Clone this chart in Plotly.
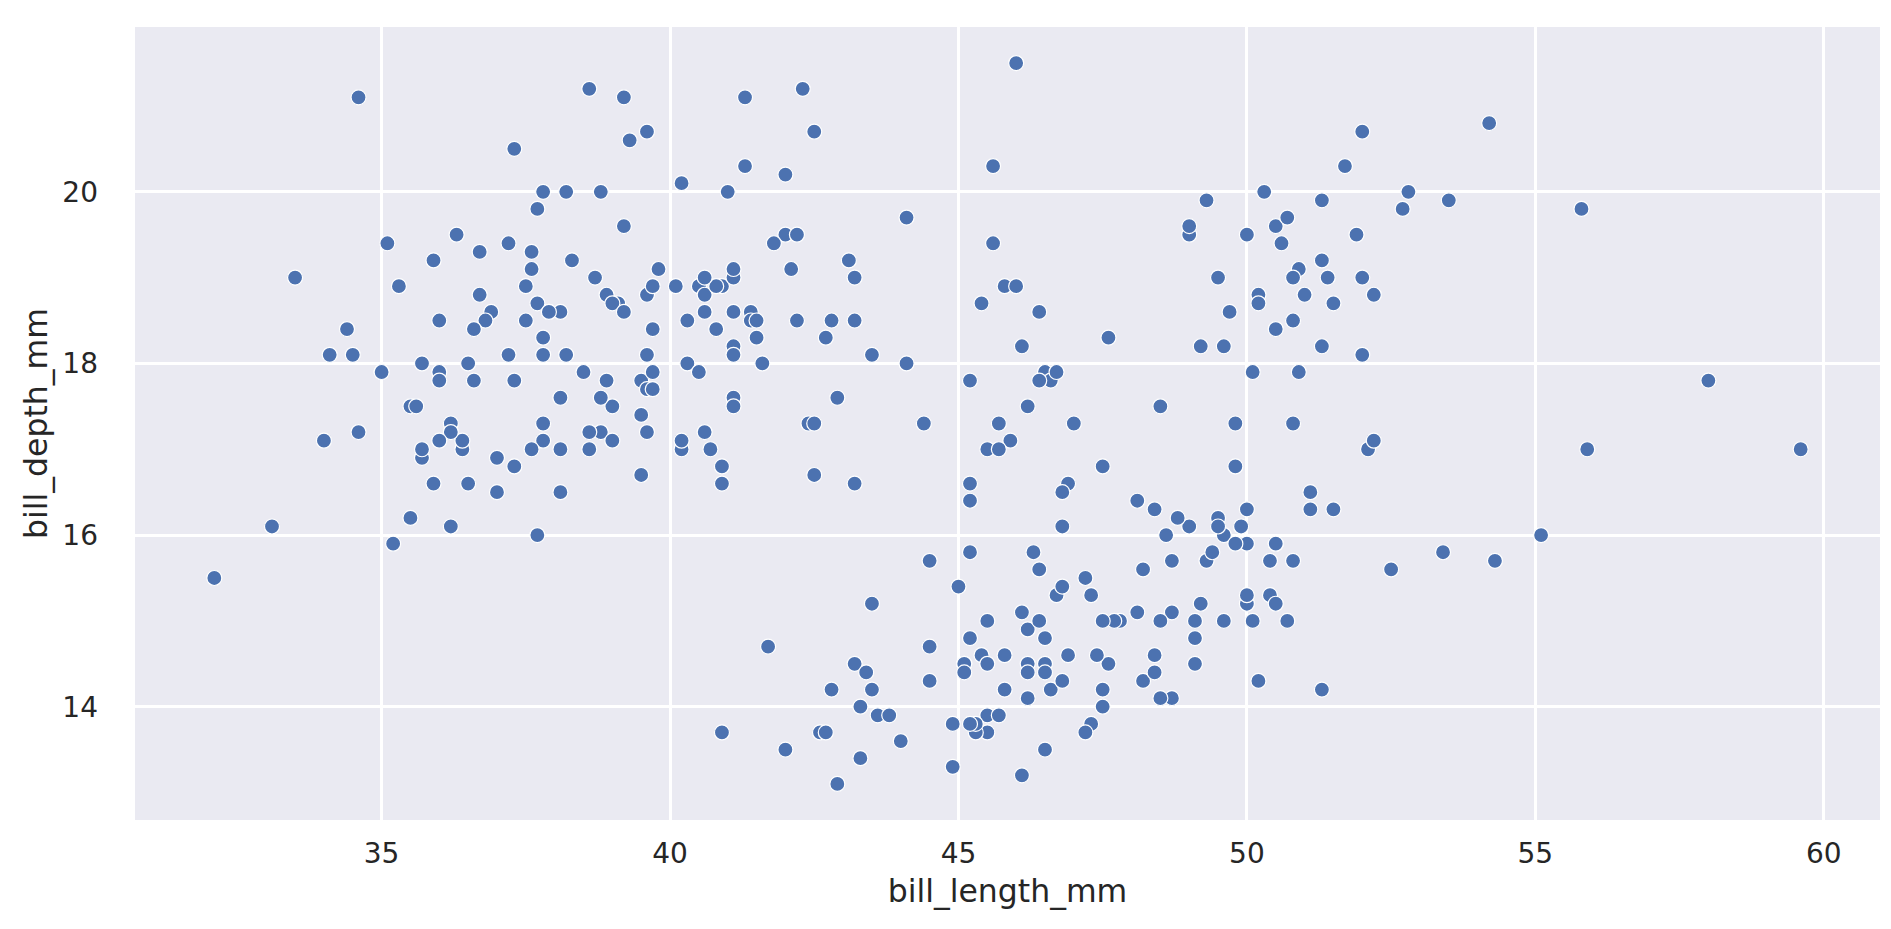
import plotly.graph_objects as go

# Palmer penguins: bill_length_mm / bill_depth_mm (rows with missing values dropped)
adelie_length = [39.1,39.5,40.3,36.7,39.3,38.9,39.2,34.1,42.0,37.8,37.8,41.1,38.6,34.6,36.6,38.7,42.5,34.4,46.0,
    37.8,37.7,35.9,38.2,38.8,35.3,40.6,40.5,37.9,40.5,39.5,37.2,39.5,40.9,36.4,39.2,38.8,42.2,37.6,39.8,36.5,40.8,
    36.0,44.1,37.0,39.6,41.1,37.5,36.0,42.3,39.6,40.1,35.0,42.0,34.5,41.4,39.0,40.6,36.5,37.6,35.7,41.3,37.6,41.1,
    36.4,41.6,35.5,41.1,35.9,41.8,33.5,39.7,39.6,45.8,35.5,42.8,40.9,37.2,36.2,42.1,34.6,42.9,36.7,35.1,37.3,41.3,
    36.3,36.9,38.3,38.9,35.7,41.1,34.0,39.6,36.2,40.8,38.1,40.3,33.1,43.2,35.0,41.0,37.7,37.8,37.9,39.7,38.6,38.2,
    38.1,43.2,38.1,45.6,39.7,42.2,39.6,42.7,38.6,37.3,35.7,41.1,36.2,37.7,40.2,41.4,35.2,40.6,38.8,41.5,39.0,44.1,
    38.5,43.1,36.8,37.5,38.1,41.1,35.6,40.2,37.0,39.7,40.2,40.6,32.1,40.7,37.3,39.0,39.2,36.6,36.0,37.8,36.0,41.5]
adelie_depth = [18.7,17.4,18.0,19.3,20.6,17.8,19.6,18.1,20.2,17.1,17.3,17.6,21.2,21.1,17.8,19.0,20.7,18.4,21.5,
    18.3,18.7,19.2,18.1,17.2,18.9,18.6,17.9,18.6,18.9,16.7,18.1,17.8,18.9,17.0,21.1,20.0,18.5,19.3,19.1,18.0,18.4,
    18.5,19.7,16.9,18.8,19.0,18.9,17.9,21.2,17.7,18.9,17.9,19.5,18.1,18.6,17.5,18.8,16.6,19.1,16.9,21.1,17.0,18.2,
    17.1,18.0,16.2,19.1,16.6,19.4,19.0,18.4,17.2,18.9,17.5,18.5,16.8,19.4,16.1,19.1,17.2,17.6,18.8,19.4,17.8,20.3,
    19.5,18.6,19.2,18.8,18.0,18.1,17.1,18.1,17.3,18.9,18.6,18.5,16.1,18.5,17.9,20.0,16.0,20.0,18.6,18.9,17.2,20.0,
    17.0,19.0,16.5,20.3,17.7,19.5,20.7,18.3,17.0,20.5,17.0,18.6,17.2,19.8,17.0,18.5,15.9,19.0,17.6,18.3,17.1,18.0,
    17.9,19.2,18.5,18.5,17.6,17.5,17.5,20.1,16.5,17.9,17.1,17.2,15.5,17.0,16.8,18.7,18.6,18.4,17.8,18.1,17.1,18.5]

chinstrap_length = [46.5,50.0,51.3,45.4,52.7,45.2,46.1,51.3,46.0,51.3,46.6,51.7,47.0,52.0,45.9,50.5,50.3,58.0,46.4,
    49.2,42.4,48.5,43.2,50.6,46.7,52.0,50.5,49.5,46.4,52.8,40.9,54.2,42.5,51.0,49.7,47.5,47.6,52.0,46.9,53.5,49.0,
    46.2,50.9,45.5,50.9,50.8,50.1,49.0,51.5,49.8,48.1,51.4,45.7,50.7,42.5,52.2,45.2,49.3,50.2,45.6,51.9,46.8,45.7,
    55.8,43.5,49.6,50.8,50.2]
chinstrap_depth = [17.9,19.5,19.2,18.7,19.8,17.8,18.2,18.2,18.9,19.9,17.8,20.3,17.3,18.1,17.1,19.6,20.0,17.8,18.6,
    18.2,17.3,17.5,16.6,19.4,17.9,19.0,18.4,19.0,17.8,20.0,16.6,20.8,16.7,18.8,18.6,16.8,18.3,20.7,16.6,19.9,19.5,
    17.5,19.1,17.0,17.9,18.5,17.9,19.6,18.7,17.3,16.4,19.0,17.3,19.7,17.3,18.8,16.6,19.9,18.8,19.4,19.5,16.5,17.0,
    19.8,18.1,18.2,19.0,18.7]

gentoo_length = [46.1,50.0,48.7,50.0,47.6,46.5,45.4,46.7,43.3,46.8,40.9,49.0,45.5,48.4,45.8,49.3,42.0,49.2,46.2,
    48.7,50.2,45.1,46.5,46.3,42.9,46.1,44.5,47.8,48.2,50.0,47.3,42.8,45.1,59.6,49.1,48.4,42.6,44.4,44.0,48.7,42.7,
    49.6,45.3,49.6,50.5,43.6,45.5,50.5,44.9,45.2,46.6,48.5,45.1,50.1,46.5,45.0,43.8,45.5,43.2,50.4,45.3,46.2,45.7,
    54.3,45.8,49.8,46.2,49.5,43.5,50.7,47.7,46.4,48.2,46.5,46.4,48.6,47.5,51.1,45.2,45.2,49.1,52.5,47.4,50.0,44.9,
    50.8,43.4,51.3,47.5,52.1,47.5,52.2,45.5,49.5,44.5,50.8,49.4,46.9,48.4,51.1,48.5,55.9,47.2,49.1,47.3,46.8,41.7,
    53.4,43.3,48.1,50.5,49.8,43.5,51.5,46.2,55.1,44.5,48.8,47.2,46.8,50.4,45.2,49.9]
gentoo_depth = [13.2,16.3,14.1,15.2,14.5,13.5,14.6,15.3,13.4,15.4,13.7,16.1,13.7,14.6,14.6,15.7,13.5,15.2,14.5,
    15.1,14.3,14.5,14.5,15.8,13.1,15.1,14.3,15.0,14.3,15.3,15.3,14.2,14.5,17.0,14.8,16.3,13.7,17.3,13.6,15.7,13.7,
    16.0,13.7,15.0,15.9,13.9,13.9,15.9,13.3,15.8,14.2,14.1,14.4,15.0,14.4,15.4,13.9,15.0,14.5,15.3,13.8,14.9,13.9,
    15.7,14.2,16.8,14.4,16.2,14.2,15.0,15.0,15.6,15.6,14.8,15.0,16.0,14.2,16.3,13.8,16.4,14.5,15.6,14.6,15.9,13.8,
    17.3,14.4,14.2,14.0,17.0,15.0,17.1,14.5,16.1,14.7,15.7,15.8,14.6,14.4,16.5,15.0,17.0,15.5,15.0,13.8,16.1,14.7,
    15.8,14.0,15.1,15.2,15.9,15.2,16.3,14.1,16.0,15.7,16.2,13.7,14.3,15.7,14.8,16.1]

bill_length_mm = adelie_length + chinstrap_length + gentoo_length
bill_depth_mm = adelie_depth + chinstrap_depth + gentoo_depth

x_ticks = [35, 40, 45, 50, 55, 60]
y_ticks = [14, 16, 18, 20]

# seaborn-like 5% margins
xmin, xmax = min(bill_length_mm), max(bill_length_mm)
ymin, ymax = min(bill_depth_mm), max(bill_depth_mm)
xpad = (xmax - xmin) * 0.05
ypad = (ymax - ymin) * 0.05

fig = go.Figure(go.Scatter(
    x=bill_length_mm, y=bill_depth_mm, mode="markers",
    marker=dict(color="#4C72B0", size=15, line=dict(color="white", width=1.2)),
    showlegend=False,
))

font_family = "DejaVu Sans"
fig.update_layout(
    width=1891, height=929,
    margin=dict(l=127, r=19, t=19, b=117, autoexpand=False),
    paper_bgcolor="white", plot_bgcolor="#EAEAF2",
    font=dict(family=font_family, color="#262626", size=28),
)
fig.update_xaxes(
    range=[xmin - xpad, xmax + xpad], tickvals=x_ticks, ticktext=[str(t) for t in x_ticks],
    showgrid=True, gridcolor="white", gridwidth=2.5, zeroline=False, showline=False,
    ticks="", ticklabelstandoff=14, tickfont=dict(size=28, color="#262626"),
    title=dict(text="bill_length_mm", font=dict(size=31.5, color="#262626"), standoff=10),
    automargin=False,
)
fig.update_yaxes(
    range=[ymin - ypad, ymax + ypad], tickvals=y_ticks, ticktext=[str(t) for t in y_ticks],
    showgrid=True, gridcolor="white", gridwidth=2.5, zeroline=False, showline=False,
    ticks="", ticklabelstandoff=36, tickfont=dict(size=28, color="#262626"),
    title=dict(text="bill_depth_mm", font=dict(size=31.5, color="#262626"), standoff=5),
    automargin=False,
)

fig.write_html("out.html")
